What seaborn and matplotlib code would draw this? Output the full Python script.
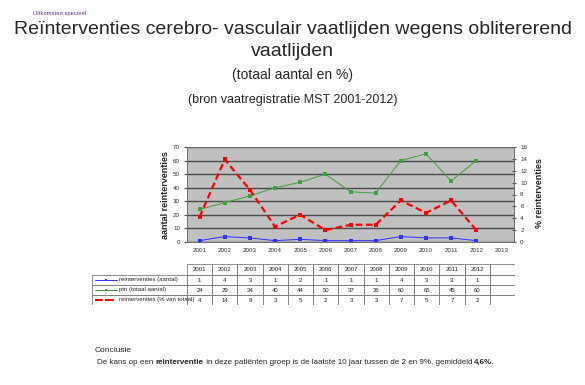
import matplotlib
matplotlib.use('Agg')
import matplotlib.pyplot as plt
from matplotlib.patches import Rectangle
import seaborn as sns
import pandas as pd


years = [2001, 2002, 2003, 2004, 2005, 2006, 2007, 2008, 2009, 2010, 2011, 2012]
axis_years = years + [2013]
reint_aantal = [1, 4, 3, 1, 2, 1, 1, 1, 4, 3, 3, 1]
ptn_totaal = [24, 29, 34, 40, 44, 50, 37, 36, 60, 65, 45, 60]
reint_pct_plot = [4.2, 13.9, 8.8, 2.6, 4.6, 2.0, 2.9, 2.9, 7.0, 4.9, 7.0, 2.0]
reint_pct_table = [4, 14, 9, 3, 5, 2, 3, 3, 7, 5, 7, 2]
series_names = ['reinterventies (aantal)', 'ptn (totaal aantal)', 'reinterventies (% van totaal)']

sns.set_style('white')
plt.rcParams['font.family'] = ['Liberation Sans', 'DejaVu Sans']

W, H = 585, 385
fig = plt.figure(figsize=(W / 100, H / 100), dpi=100)

def fx(px):
    return px / W

def fy(py):
    return 1 - py / H

# header texts
fig.text(fx(33), fy(13), 'Uitkomsten specieel', fontsize=4.2, color='#603080', va='center')
fig.text(0.5, fy(29), 'Reïnterventies cerebro- vasculair vaatlijden wegens oblitererend',
         fontsize=14, ha='center', va='center')
fig.text(0.5, fy(52), 'vaatlijden', fontsize=14, ha='center', va='center')
fig.text(0.5, fy(75), '(totaal aantal en %)', fontsize=10, ha='center', va='center')
fig.text(0.5, fy(100), '(bron vaatregistratie MST 2001-2012)', fontsize=9, ha='center', va='center')

# chart
df = pd.DataFrame({'pos': list(range(len(years))), 'aantal': reint_aantal,
                   'ptn': ptn_totaal, 'pct': reint_pct_plot})

left, right, top, bottom = 187, 514, 147, 242
ax = fig.add_axes([fx(left), fy(bottom), fx(right - left), (bottom - top) / H])
ax.set_facecolor('#C0C0C0')
sns.lineplot(data=df, x='pos', y='aantal', ax=ax, color='#3030FF', marker='s',
             markersize=2.5, markeredgewidth=0, linewidth=0.7)
sns.lineplot(data=df, x='pos', y='ptn', ax=ax, color='#40A040', marker='s',
             markersize=2.5, markeredgewidth=0, linewidth=0.7)
ax.set_ylim(0, 70)
ax.set_yticks(range(0, 71, 10))
ax.set_xlim(-0.5, len(axis_years) - 0.5)
ax.set_xticks(range(len(axis_years)))
ax.set_xticklabels([str(y) for y in axis_years])
ax.set_xticks([i + 0.5 for i in range(len(axis_years) - 1)], minor=True)
ax.tick_params(axis='x', which='major', length=0, labelsize=4.5, pad=4, colors='#333333')
ax.tick_params(axis='x', which='minor', length=2, color='#555555', direction='out')
ax.tick_params(axis='y', labelsize=4.5, length=2, color='#555555', pad=3, colors='#333333')
ax.yaxis.grid(True, color='#4a4a4a', linewidth=1.0)
ax.set_axisbelow(True)
ax.set_xlabel('')
ax.set_ylabel('')
for s in ax.spines.values():
    s.set_color('#707070')
    s.set_linewidth(0.7)

ax2 = ax.twinx()
sns.lineplot(data=df, x='pos', y='pct', ax=ax2, color='#FF0000', marker='s',
             markersize=2.5, markeredgewidth=0, linewidth=1.6, linestyle=(0, (3, 1.6)))
ax2.set_ylim(0, 16)
ax2.set_yticks(range(0, 17, 2))
ax2.tick_params(axis='y', labelsize=4.5, length=3, color='#555555', pad=3,
                direction='inout', colors='#333333')
ax2.set_ylabel('')
ax2.grid(False)
for s in ax2.spines.values():
    s.set_color('#707070')
    s.set_linewidth(0.7)

fig.text(fx(165), fy(195), 'aantal reinterventies', rotation=90, fontsize=6.5,
         fontweight='bold', ha='center', va='center')
fig.text(fx(539), fy(193), '% reinterventies', rotation=90, fontsize=6.5,
         fontweight='bold', ha='center', va='center')

# data table
t_left, t_right, t_top, t_bottom = 92, 515, 264, 305
tax = fig.add_axes([fx(t_left), fy(t_bottom), fx(t_right - t_left), (t_bottom - t_top) / H])
tax.set_xlim(0, t_right - t_left)
tax.set_ylim(t_bottom - t_top, 0)
tax.axis('off')
lab_w = left - t_left
col_w = (t_right - left) / len(axis_years)
row_tops = [0, 11, 21, 31, 41]
edge = '#808080'

for j, yr in enumerate(axis_years):
    x0 = lab_w + j * col_w
    for r in range(4):
        tax.add_patch(Rectangle((x0, row_tops[r]), col_w, row_tops[r + 1] - row_tops[r],
                                fill=False, edgecolor=edge, linewidth=0.6))
    if yr in years:
        tax.text(x0 + col_w / 2, (row_tops[0] + row_tops[1]) / 2, str(yr),
                 fontsize=4.3, ha='center', va='center', color='#222222')

rows = [reint_aantal, ptn_totaal, reint_pct_table]
styles = [('#3030FF', '-', 0.7), ('#40A040', '-', 0.7), ('#FF0000', '--', 1.5)]
for r, (vals, name, (c, ls, lw)) in enumerate(zip(rows, series_names, styles)):
    y0, y1 = row_tops[r + 1], row_tops[r + 2]
    ym = (y0 + y1) / 2
    tax.add_patch(Rectangle((0, y0), lab_w, y1 - y0, fill=False, edgecolor=edge, linewidth=0.6))
    tax.plot([3, 25], [ym, ym], color=c, linestyle=ls, linewidth=lw)
    tax.plot([14], [ym], marker='s', markersize=2, color=c, markeredgewidth=0)
    tax.text(27, ym, name, fontsize=4.3, ha='left', va='center', color='#222222')
    for j, v in enumerate(vals):
        tax.text(lab_w + j * col_w + col_w / 2, ym, str(v), fontsize=4.3,
                 ha='center', va='center', color='#222222')

# conclusion
fig.text(fx(95), fy(351), 'Conclusie', fontsize=6, va='center')
pieces = [('De kans op een ', 'normal'), ('reinterventie', 'bold'),
          (' in deze patiënten groep is de laatste 10 jaar tussen de 2 en 9%, gemiddeld ', 'normal'),
          ('4,6%.', 'bold')]
renderer = fig.canvas.get_renderer()
xpos = fx(97)
for txt, wt in pieces:
    t = fig.text(xpos, fy(362), txt, fontsize=5.8, fontweight=wt, va='center')
    bb = t.get_window_extent(renderer=renderer)
    xpos += bb.width / W

fig.savefig('out.png', dpi=100)
